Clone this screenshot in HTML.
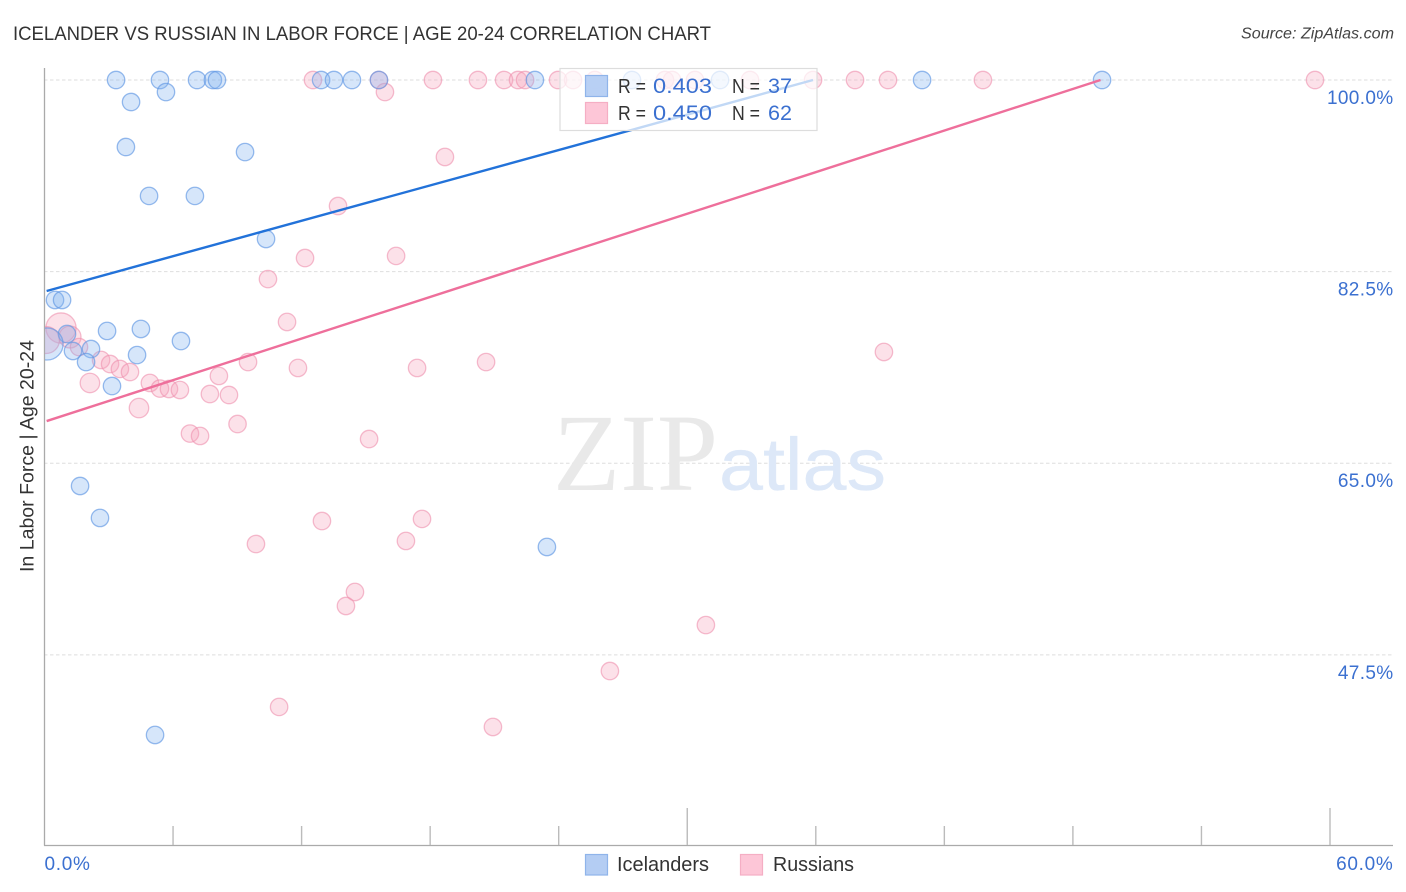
<!DOCTYPE html>
<html lang="en">
<head>
<meta charset="utf-8">
<title>Icelander vs Russian in Labor Force | Age 20-24 Correlation Chart</title>
<style>
html,body{margin:0;padding:0;background:#fff;}
svg{display:block;font-family:"Liberation Sans",sans-serif;}
</style>
</head>
<body>
<svg id="chart" xmlns="http://www.w3.org/2000/svg" width="1406" height="892" viewBox="0 0 1406 892">
  <defs>
    <clipPath id="plot-clip"><rect x="45" y="0" width="1361" height="892"/></clipPath>
  </defs>
  <text x="13" y="40" font-size="19.5" fill="#333" textLength="698" lengthAdjust="spacingAndGlyphs">ICELANDER VS RUSSIAN IN LABOR FORCE | AGE 20-24 CORRELATION CHART</text>
  <text x="1241" y="38.500" font-size="15.500" font-style="italic" fill="#444" textLength="153" lengthAdjust="spacingAndGlyphs">Source: ZipAtlas.com</text>
  <g id="grid"></g>
  <g>
    <text x="553" y="490" font-family="'Liberation Serif',serif" font-size="110" fill="#e9e9e9">ZIP</text>
    <text x="719" y="490" font-size="74" fill="#dde8f8" stroke="#dde8f8" stroke-width="0.300" textLength="167" lengthAdjust="spacingAndGlyphs">atlas</text>
  </g>
  <g id="axes">
    <line x1="44.500" y1="68" x2="44.500" y2="845.500" stroke="#aaa" stroke-width="1.300"/>
    <line x1="44" y1="845.500" x2="1393" y2="845.500" stroke="#aaa" stroke-width="1.300"/>
  </g>
  <g id="x-ticks"></g>
  <g id="y-labels"></g>
  <g id="x-labels"></g>
  <text transform="translate(33.500,572) rotate(-90)" x="0" y="0" font-size="19.500" fill="#333" textLength="232" lengthAdjust="spacingAndGlyphs">In Labor Force | Age 20-24</text>
  <g id="points" clip-path="url(#plot-clip)"></g>
  <g id="trends"></g>
  <g>
    <rect x="560" y="68.500" width="257" height="62" fill="#fff" fill-opacity="0.72" stroke="#ddd" stroke-width="1.200"/>
    <rect x="585.500" y="75.500" width="22" height="21" fill="#b4cdf3" fill-opacity="0.95" stroke="#8fb4ea" stroke-width="1.200"/>
    <rect x="585.500" y="102.500" width="22" height="21" fill="#fdc6d7" stroke="#f5aec4" stroke-width="1.200"/>
    <text x="618" y="93" font-size="20" fill="#333" textLength="28" lengthAdjust="spacingAndGlyphs">R =</text>
    <text x="653" y="93" font-size="21" fill="#3b70d0" textLength="59" lengthAdjust="spacingAndGlyphs">0.403</text>
    <text x="732" y="93" font-size="20" fill="#333" textLength="28" lengthAdjust="spacingAndGlyphs">N =</text>
    <text x="768" y="93" font-size="21" fill="#3b70d0" textLength="24" lengthAdjust="spacingAndGlyphs">37</text>
    <text x="618" y="120" font-size="20" fill="#333" textLength="28" lengthAdjust="spacingAndGlyphs">R =</text>
    <text x="653" y="120" font-size="21" fill="#3b70d0" textLength="59" lengthAdjust="spacingAndGlyphs">0.450</text>
    <text x="732" y="120" font-size="20" fill="#333" textLength="28" lengthAdjust="spacingAndGlyphs">N =</text>
    <text x="768" y="120" font-size="21" fill="#3b70d0" textLength="24" lengthAdjust="spacingAndGlyphs">62</text>
  </g>
  <g>
    <rect x="585.500" y="854.500" width="22" height="20.500" fill="#b4cdf3" stroke="#8fb4ea" stroke-width="1.200"/>
    <text x="617" y="871" font-size="20" fill="#333" textLength="92" lengthAdjust="spacingAndGlyphs">Icelanders</text>
    <rect x="740.500" y="854.500" width="22" height="20.500" fill="#fdc6d7" stroke="#f5aec4" stroke-width="1.200"/>
    <text x="773" y="871" font-size="20" fill="#333" textLength="81" lengthAdjust="spacingAndGlyphs">Russians</text>
  </g>
</svg>
<script>
const icelanderX = [3.34,5.39,7.12,7.86,8.05,12.91,13.51,14.35,15.61,22.89,27.42,31.53,40.96,49.36,4.04,5.67,3.80,9.36,4.88,7.02,10.34,0.49,0.82,4.50,2.92,6.37,1.05,4.32,2.17,1.33,1.94,3.15,1.66,2.59,23.45,5.16,0.12];
const icelanderY = [100,100,100,100,100,100,100,100,100,100,100,100,100,100,97.99,98.90,93.88,93.42,89.41,89.41,85.48,79.91,79.91,77.26,77.08,76.16,76.80,74.88,75.43,75.25,74.24,72.05,62.92,60.00,57.35,40.18,75.89];
const icelanderSize = [1,1,1,1,1,1,1,1,1,1,1,1,1,1,1,1,1,1,1,1,1,1,1,1,1,1,1,1,1,1,1,1,1,1,1,1,3.4];
const russianX = [12.53,15.61,18.13,20.23,21.45,22.10,22.43,23.97,24.67,25.69,28.96,29.29,30.36,32.93,35.87,37.83,39.37,43.80,59.30,15.89,18.69,13.70,16.41,12.16,10.43,11.32,39.18,20.61,17.39,11.83,9.50,8.14,0.77,1.19,1.61,2.64,3.06,3.52,3.99,2.12,4.41,4.92,5.39,5.81,6.32,7.72,8.61,9.01,6.79,7.26,15.15,12.95,17.62,9.87,16.87,14.49,14.07,30.87,26.39,10.95,20.93,0.07];
const russianY = [100,100,100,100,100,100,100,100,100,100,100,100,100,100,100,100,100,100,100,98.90,92.97,88.49,83.93,83.74,81.82,77.90,75.16,74.24,73.70,73.70,74.24,72.97,77.35,76.53,75.61,74.43,74.06,73.61,73.33,72.33,70.04,72.33,71.82,71.78,71.69,71.32,71.23,68.58,67.71,67.49,67.21,59.72,59.91,57.62,57.90,53.24,51.96,50.22,46.02,42.74,40.91,76.25];
const russianSize = [1,1,1,1,1,1,1,1,1,1,1,1,1,1,1,1,1,1,1,1,1,1,1,1,1,1,1,1,1,1,1,1,3,1.6,1,1,1,1,1,1.25,1.25,1,1,1,1,1,1,1,1,1,1,1,1,1,1,1,1,1,1,1,1,2.4];
const icelanderTrendX = [0.10,35.87];
const icelanderTrendY = [80.73,100];
const russianTrendX = [0.10,49.29];
const russianTrendY = [68.85,100];
const yTickValues = [100,82.5,65,47.5];
const yTickLabels = ["100.0%","82.5%","65.0%","47.5%"];
const xTickValues = [6,12,18,24,30,36,42,48,54,60];
const xEndValues = [0,60];
const xEndLabels = ["0.0%","60.0%"];

const NS = "http://www.w3.org/2000/svg";
function xScale(v){ return 44.5 + v * 21.425; }
function yScale(v){ return 80 + (100 - v) * 10.949; }
function make(tag, attrs, parent){
  const el = document.createElementNS(NS, tag);
  for (const k in attrs) el.setAttribute(k, attrs[k]);
  parent.appendChild(el);
  return el;
}

const grid = document.getElementById("grid");
yTickValues.forEach(function(v){
  const el = make("line", {x1:44, x2:1393, y1:yScale(v), y2:yScale(v), stroke:"#dedede", "stroke-width":1, "stroke-dasharray":"3.5 2.5"}, grid);
  
  
});

const xTicks = document.getElementById("x-ticks");
xTickValues.forEach(function(v){
  const tall = v % 30 === 0;
  const el = make("line", {x1:xScale(v), x2:xScale(v), y1:tall ? 808 : 826, y2:845, stroke:"#bbb", "stroke-width":1.4}, xTicks);
  
  
});

const yLabels = document.getElementById("y-labels");
yTickValues.forEach(function(v, i){
  const el = make("text", {x:1393.5, y:yScale(v) + 24, "text-anchor":"end", "font-size":19, fill:"#3b70d0", "letter-spacing":0.35}, yLabels);
  el.textContent = yTickLabels[i];
  
  
});

const xLabels = document.getElementById("x-labels");
xEndValues.forEach(function(v, i){
  const el = make("text", {x:i === 0 ? xScale(v) : 1393.5, y:870, "text-anchor":i === 0 ? "start" : "end", "font-size":19, fill:"#3b70d0", "letter-spacing":0.7}, xLabels);
  el.textContent = xEndLabels[i];
  
  
});

const points = document.getElementById("points");
russianX.forEach(function(v, i){
  const el = make("circle", {cx:xScale(v), cy:yScale(russianY[i]), r:8.7 * Math.sqrt(russianSize[i]), fill:"#f7a3bd", "fill-opacity":0.33, stroke:"#ee8fae", "stroke-opacity":0.6, "stroke-width":1.3}, points);
  
  
});
icelanderX.forEach(function(v, i){
  const el = make("circle", {cx:xScale(v), cy:yScale(icelanderY[i]), r:8.7 * Math.sqrt(icelanderSize[i]), fill:"#7fb0f0", "fill-opacity":0.32, stroke:"#5f97e4", "stroke-opacity":0.65, "stroke-width":1.3}, points);
  
  
});

const trends = document.getElementById("trends");
const blueTrend = make("line", {x1:xScale(icelanderTrendX[0]), y1:yScale(icelanderTrendY[0]), x2:xScale(icelanderTrendX[1]), y2:yScale(icelanderTrendY[1]), stroke:"#2272d9", "stroke-width":2.4}, trends);


const pinkTrend = make("line", {x1:xScale(russianTrendX[0]), y1:yScale(russianTrendY[0]), x2:xScale(russianTrendX[1]), y2:yScale(russianTrendY[1]), stroke:"#ee6f9b", "stroke-width":2.4}, trends);


</script>
</body>
</html>
